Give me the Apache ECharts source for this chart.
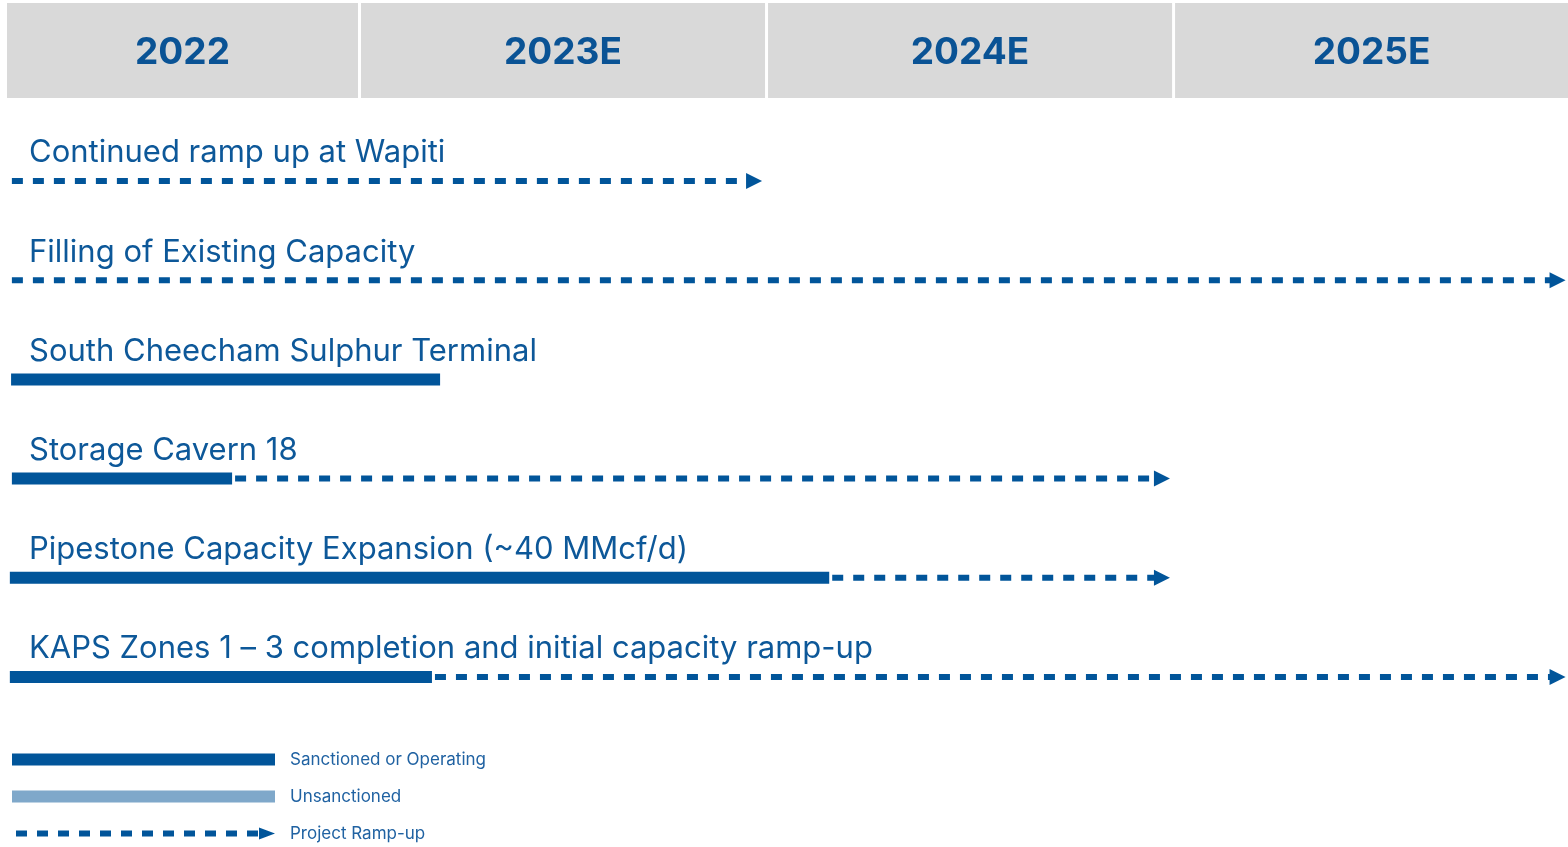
<!DOCTYPE html>
<html>
<head>
<meta charset="utf-8">
<script src="https://cdn.jsdelivr.net/npm/echarts@6/dist/echarts.min.js"></script>
<style>
html,body{margin:0;padding:0;background:#fff;}
#chart{width:1568px;height:847px;}
</style>
</head>
<body>
<div id="chart"></div>
<script>
// ---- data ----
const years = [2022, 2023, 2024, 2025];
const yearLabels = ['2022', '2023E', '2024E', '2025E'];
const projects = [
  'Continued ramp up at Wapiti',
  'Filling of Existing Capacity',
  'South Cheecham Sulphur Terminal',
  'Storage Cavern 18',
  'Pipestone Capacity Expansion (~40 MMcf/d)',
  'KAPS Zones 1 \u2013 3 completion and initial capacity ramp-up'
];
const startYear = [2022.146, 2022.146, 2022.144, 2022.146, 2022.141, 2022.141];
const sanctionedEnd = [null, null, 2023.198, 2022.687, 2024.154, 2023.178];
const rampEnd = [2023.989, 2025.963, null, 2024.991, 2024.991, 2025.963];
const axisMin = 2022.134;
const axisMax = 2025.969;
const legendNames = ['Sanctioned or Operating', 'Unsanctioned', 'Project Ramp-up'];

// ---- styles ----
const DARK = '#01559a';
const LIGHT = '#7fa8ca';
const TEXT = '#0d5899';
const FONT = 'Inter, "Noto Sans", sans-serif';

const chart = echarts.init(document.getElementById('chart'));

const headerData = years.map((y, i) => [y, 0.5]);
const solidData = [];
const rampData = [];
const labelData = [];
projects.forEach((p, i) => {
  labelData.push([i, startYear[i]]);
  if (sanctionedEnd[i] != null) solidData.push([i, startYear[i], sanctionedEnd[i]]);
  if (rampEnd[i] != null) {
    const s = sanctionedEnd[i] != null ? sanctionedEnd[i] : startYear[i];
    rampData.push([i, s, rampEnd[i], sanctionedEnd[i] != null ? 1 : 0]);
  }
});

// dashed-arrow legend icon (263 x 12 box)
let iconPath = 'M0 3L0.01 3L0.01 9L0 9Z';
for (let k = 0; k < 12; k++) {
  const x = 4 + 21 * k;
  iconPath += 'M' + x + ' 3L' + (x + 11) + ' 3L' + (x + 11) + ' 9L' + x + ' 9Z';
}
iconPath += 'M247 0L263 6L247 12Z';

const option = {
  animation: false,
  backgroundColor: '#fff',
  grid: [
    { left: 7, right: 0, top: 3, height: 95 },
    { left: 7, right: 0, top: 131.4, height: 595.2 }
  ],
  xAxis: [
    { type: 'value', gridIndex: 0, min: axisMin, max: axisMax, show: false },
    { type: 'value', gridIndex: 1, min: axisMin, max: axisMax, show: false }
  ],
  yAxis: [
    { type: 'value', gridIndex: 0, min: 0, max: 1, show: false },
    { type: 'category', gridIndex: 1, data: projects, inverse: true, show: false }
  ],
  legend: {
    orient: 'vertical',
    left: 12,
    top: 751,
    padding: 0,
    height: 96,
    itemWidth: 263,
    itemHeight: 12,
    itemGap: 20,
    selectedMode: false,
    textStyle: { color: '#2062a2', fontSize: 17, fontFamily: FONT, lineHeight: 16, padding: [0, 0, 0, 10] },
    data: [
      { name: legendNames[0], icon: 'rect', itemStyle: { color: DARK } },
      { name: legendNames[1], icon: 'rect', itemStyle: { color: LIGHT } },
      { name: legendNames[2], icon: 'path://' + iconPath, itemStyle: { color: DARK } }
    ]
  },
  series: [
    {
      type: 'custom', name: 'header', xAxisIndex: 0, yAxisIndex: 0, silent: true,
      data: headerData,
      renderItem: function (params, api) {
        const cs = params.coordSys;
        const y = api.value(0);
        const p0 = api.coord([y, 0]);
        const p1 = api.coord([y + 1, 0]);
        const x0 = Math.max(p0[0] + 1.5, cs.x);
        const x1 = Math.min(p1[0] - 1.5, cs.x + cs.width);
        return {
          type: 'group',
          children: [
            { type: 'rect', shape: { x: x0, y: cs.y, width: x1 - x0, height: cs.height }, style: { fill: '#d9d9d9' } },
            { type: 'text', style: { text: yearLabels[params.dataIndex], x: (x0 + x1) / 2, y: cs.y + cs.height / 2 + 2,
              align: 'center', verticalAlign: 'middle', fill: '#0a5395', font: '700 37px ' + FONT } }
          ]
        };
      }
    },
    {
      type: 'custom', name: 'labels', xAxisIndex: 1, yAxisIndex: 1, silent: true,
      data: labelData,
      renderItem: function (params, api) {
        const cs = params.coordSys;
        const p = api.coord([api.value(1), api.value(0)]);
        return { type: 'text', style: { text: projects[api.value(0)], x: cs.x + 22, y: p[1] - 28,
          align: 'left', verticalAlign: 'middle', fill: TEXT, font: '400 31px ' + FONT } };
      }
    },
    {
      type: 'custom', name: legendNames[0], xAxisIndex: 1, yAxisIndex: 1, silent: true,
      itemStyle: { color: DARK },
      encode: { x: [1, 2], y: 0 },
      data: solidData,
      renderItem: function (params, api) {
        const a = api.coord([api.value(1), api.value(0)]);
        const b = api.coord([api.value(2), api.value(0)]);
        return { type: 'rect', shape: { x: a[0], y: a[1] - 6, width: b[0] - a[0], height: 12 }, style: { fill: DARK } };
      }
    },
    {
      type: 'custom', name: legendNames[1], xAxisIndex: 1, yAxisIndex: 1, silent: true,
      itemStyle: { color: LIGHT },
      data: [],
      renderItem: function () { return null; }
    },
    {
      type: 'custom', name: legendNames[2], xAxisIndex: 1, yAxisIndex: 1, silent: true,
      itemStyle: { color: DARK },
      encode: { x: [1, 2], y: 0 },
      data: rampData,
      renderItem: function (params, api) {
        const a = api.coord([api.value(1), api.value(0)]);
        const b = api.coord([api.value(2), api.value(0)]);
        const x0 = a[0] + (api.value(3) ? 3 : 0);
        const yc = a[1];
        const xt = b[0];
        return {
          type: 'group',
          children: [
            { type: 'line', shape: { x1: x0, y1: yc, x2: xt - 15, y2: yc },
              style: { stroke: DARK, lineWidth: 6, lineDash: [11, 10], lineCap: 'butt' } },
            { type: 'polygon', shape: { points: [[xt - 16, yc - 8], [xt, yc], [xt - 16, yc + 8]] }, style: { fill: DARK } }
          ]
        };
      }
    }
  ]
};
chart.setOption(option);
</script>
</body>
</html>
